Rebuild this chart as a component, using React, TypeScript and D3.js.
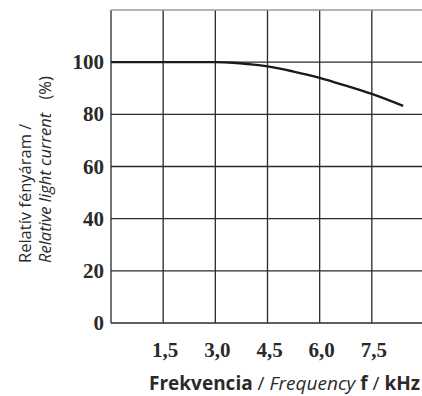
import React from "react";
import * as d3 from "d3";

const xTicks = [1.5, 3.0, 4.5, 6.0, 7.5];
const xTickLabels = ["1,5", "3,0", "4,5", "6,0", "7,5"];
const yTicks = [0, 20, 40, 60, 80, 100];
const freq = [0, 1.5, 3.0, 3.5, 4.0, 4.5, 5.25, 6.0, 6.75, 7.5, 8.4];
const current = [100, 100, 100, 99.8, 99.2, 98.4, 96.4, 94.0, 91.0, 87.8, 83.2];

export default function App() {
  const W = 422, H = 396;
  const x = d3.scaleLinear().domain([0, 9]).range([111, 424]);
  const y = d3.scaleLinear().domain([0, 120]).range([323, 10]);
  const pts = freq.map((f, i) => [f, current[i]] as [number, number]);
  const line = d3.line<[number, number]>().x(d => x(d[0])).y(d => y(d[1])).curve(d3.curveMonotoneX);
  const gridColor = "#2a2a2a";
  const tickFont = "'Liberation Serif', 'DejaVu Serif', serif";
  const titleFont = "'Open Sans', Lato, sans-serif";
  return (
    <svg width={W} height={H} style={{ position: "absolute", left: 0, top: 0, background: "#fff" }}>
      {[0, ...xTicks].map((t, i) => (
        <line key={"v" + i} x1={x(t)} x2={x(t)} y1={y(120)} y2={y(0)} stroke={gridColor} strokeWidth={1.3} />
      ))}
      {yTicks.map((t, i) => (
        <line key={"h" + i} x1={x(0)} x2={W} y1={y(t)} y2={y(t)} stroke={gridColor} strokeWidth={1.3} />
      ))}
      <line x1={x(0)} x2={W} y1={y(120)} y2={y(120)} stroke="#9a9a9a" strokeWidth={1.3} />
      <path d={line(pts) || ""} fill="none" stroke="#1a1a1a" strokeWidth={2.4} />
      {yTicks.map((t, i) => (
        <text key={"yl" + i} x={104} y={y(t) + 7} textAnchor="end" fontFamily={tickFont} fontWeight="bold" fontSize={21} fill="#2a2a2a">{t}</text>
      ))}
      {xTicks.map((t, i) => (
        <text key={"xl" + i} x={x(t) + 2} y={357} textAnchor="middle" fontFamily={tickFont} fontWeight="bold" fontSize={21} fill="#2a2a2a">{xTickLabels[i]}</text>
      ))}
      <text x={420} y={390} textAnchor="end" fontFamily={titleFont} fontSize={19} fill="#2a2a2a">
        <tspan fontWeight="bold">Frekvencia</tspan>
        <tspan> / </tspan>
        <tspan fontStyle="italic">Frequency</tspan>
        <tspan fontWeight="bold"> f</tspan>
        <tspan> / </tspan>
        <tspan fontWeight="bold">kHz</tspan>
      </text>
      <g transform="translate(31,263) rotate(-90)">
        <text x={0} y={0} fontFamily={titleFont} fontSize={16.5} fill="#2a2a2a">Relatív fényáram /</text>
      </g>
      <g transform="translate(51,263) rotate(-90)">
        <text x={0} y={0} fontFamily={titleFont} fontSize={16.5} fill="#2a2a2a">
          <tspan fontStyle="italic">Relative light current</tspan>
          <tspan dx={9}> (%)</tspan>
        </text>
      </g>
    </svg>
  );
}
